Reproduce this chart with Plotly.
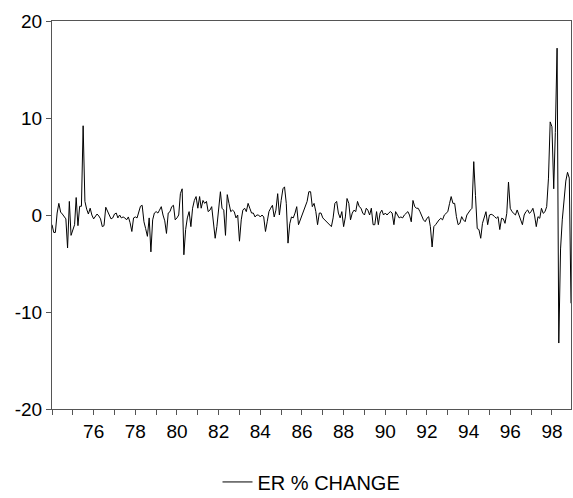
import pandas as pd
import plotly.graph_objects as go

series_name = "ER % CHANGE"
start_month = "1974-01-01"

er_change = [
    -1.0, -1.8, -1.8, 0.2, 1.2, 0.3, 0.1, -0.1, -0.4, -3.4,
    1.4, -2.1, -1.6, -1.0, 1.8, -1.1, 0.9, 0.9, 9.2, 1.4,
    0.6, 0.1, 0.7, 0.0, -0.4, -0.2, 0.1, -0.1, -0.4, -1.2,
    -1.1, 0.8, 0.4, 0.0, -0.4, -0.3, 0.1, 0.2, -0.3, 0.0,
    -0.3,
    -0.2, -0.3, -0.5, -0.2, -0.8, -1.7, -0.3, -0.2, -0.3, 0.4,
    0.9, 1.0, -0.7, -1.4, -2.2, -0.3, -3.8, -0.5, 0.2, 0.35,
    0.2, 0.5, 0.86, 0.0, -0.6, -1.9, 0.2, 0.35, 0.86, 1.0,
    -0.5, -0.3, 0.0, 2.2, 2.7, -4.1, -1.5, -0.3, 0.35, -1.2,
    0.7, 1.5, 1.9,
    0.7, 1.9, 0.7, 1.5, 1.2, 1.4, 0.35, 0.5, 0.86, -0.7,
    -2.4, -1.2, 0.86, 2.4, 0.7, 0.5, -2.1, 2.1, 1.2, 0.35,
    0.5, 0.35, -0.3, 0.0, -2.7, -0.5, 0.5, 0.7, 0.35, 1.2,
    0.7, 0.2, 0.2, -0.2, 0.0, 0.0, -0.2, 0.0, -0.2, -1.7,
    -0.7, 0.35, 0.7,
    1.0, -0.2, 0.5, 2.2, 0.0, 1.5, 2.7, 2.9, 1.2, -2.9,
    -0.9, -0.2, -0.3, 0.2, 0.86, -1.0, -0.5, 0.0, 0.5, 1.0,
    1.4, 2.4, 2.4, 0.86, 1.2, 0.35, -1.0, 0.2, 0.2, -0.3,
    -0.5, -0.7, -0.9, -1.0, -1.2, -0.3, 1.2, 1.4, 0.2, -0.3,
    0.35, -1.2,
    -0.2, 1.7, 1.2, -0.5, 0.2, 0.5, 0.35, 1.4, 0.86, 0.7,
    0.2, 0.0, 0.7, 0.5, 0.0, 0.7, -1.0, -1.0, 0.35, -1.0,
    0.2, 0.5, 0.0, 0.2, 0.0, 0.2, 0.35, 0.2, -1.0, 0.35,
    0.0, -0.3, -0.2, -0.3, 0.0, 0.2, 0.35, 0.0, -0.7, 1.5,
    0.86, 0.7,
    0.69, 0.34, -0.17, -0.5, -0.69, -0.34, -0.17, -1.2, -3.3, -1.2,
    -1.0, -0.69, -0.5, -0.34, -0.5, 0.0, 0.17, 0.34, 1.2, 1.9,
    1.2, 1.2, -0.17, -1.0, -0.86, -0.17, -0.5, -0.69, 0.0, 0.34,
    0.52, 0.69, 5.5, 2.0, -1.4, -1.5, -2.4, -0.86, -0.17, 0.34,
    -1.0,
    0.0, 0.07, 0.0, -0.17, -0.34, -0.17, -1.5, -0.34, -0.4, -0.86,
    0.17, 3.4, 0.69, 0.34, 0.17, 0.0, 0.52, 0.0, -0.34, -1.0,
    0.0, 0.34, 0.52, 0.17, 0.34, 0.69, 0.0, -1.2, -0.17, -0.34,
    0.69, 0.17, 0.34, 0.86, 3.8, 9.6, 9.1, 2.7, 8.5, 17.2,
    -13.2, -3.5, -0.5, 1.8, 3.5, 4.4, 3.8, -9.1,
]

dates = pd.date_range(start_month, periods=len(er_change), freq="MS")

x_label_years = [1976, 1978, 1980, 1982, 1984, 1986, 1988, 1990, 1992, 1994, 1996, 1998]
x_tick_labels = ["76", "78", "80", "82", "84", "86", "88", "90", "92", "94", "96", "98"]
x_tick_vals = [f"{y}-01-01" for y in x_label_years]

y_ticks = [-20, -10, 0, 10, 20]
y_tick_labels = ["-20", "-10", "0", "10", "20"]

font_family = "Liberation Sans, Arial, sans-serif"
frame_color = "#555555"

fig = go.Figure()
fig.add_trace(go.Scatter(
    x=dates, y=er_change, mode="lines", name=series_name,
    line=dict(color="black", width=1),
))

fig.update_layout(
    width=573, height=498,
    margin=dict(l=52, r=2, t=21, b=89, autoexpand=False),
    paper_bgcolor="white", plot_bgcolor="white",
    font=dict(family=font_family, size=19, color="black"),
    showlegend=True,
    legend=dict(orientation="h", x=0.5, xanchor="center", y=-0.188, yanchor="middle",
                font=dict(size=20), bgcolor="rgba(0,0,0,0)"),
)
fig.update_xaxes(
    type="date", range=[dates[0], dates[-1]],
    tickvals=x_tick_vals, ticktext=x_tick_labels,
    ticks="outside", ticklen=5, tickcolor=frame_color,
    minor=dict(dtick="M12", tick0="1974-01-01", ticks="outside", ticklen=5,
               tickcolor=frame_color, showgrid=False),
    showgrid=False, zeroline=False,
    showline=True, linecolor=frame_color, linewidth=1, mirror=True,
    tickfont=dict(size=19),
)
fig.update_yaxes(
    range=[-20, 20], tickvals=y_ticks, ticktext=y_tick_labels,
    ticks="outside", ticklen=5, tickcolor=frame_color,
    showgrid=False, zeroline=False,
    showline=True, linecolor=frame_color, linewidth=1, mirror=True,
    tickfont=dict(size=19),
)

fig.write_html("out.html")
